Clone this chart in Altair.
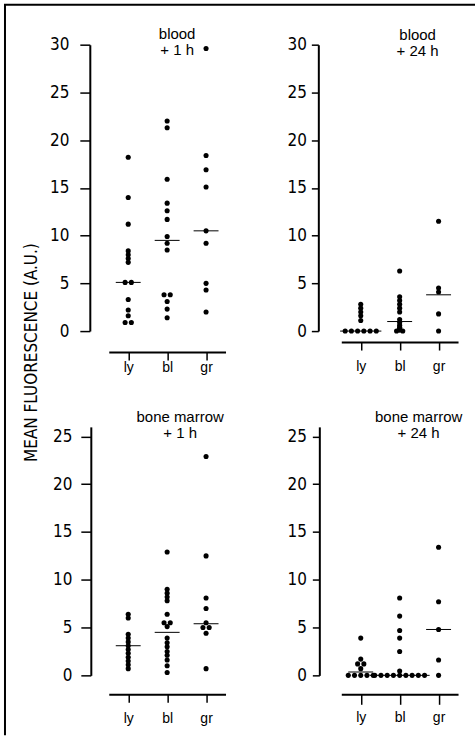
import altair as alt
import pandas as pd

CELLS = ["ly", "bl", "gr"]

# Mean fluorescence (A.U.) per cell, blood 1 h after injection
blood_1h_ly = [18.2, 14.0, 11.2, 8.4, 8.0, 7.6, 7.2, 5.1, 5.1, 3.3, 2.2, 1.6, 0.9, 0.9]
blood_1h_bl = [22.0, 21.3, 15.9, 13.4, 12.6, 11.7, 9.9, 9.2, 8.5, 3.8, 3.8, 3.1, 2.3, 1.4]
blood_1h_gr = [29.6, 18.4, 16.9, 15.1, 10.5, 9.2, 5.0, 4.3, 2.0]
blood_1h_median = [5.1, 9.5, 10.5]

# blood, 24 h
blood_24h_ly = [2.8, 2.4, 2.0, 1.6, 1.1, 0.0, 0.0, 0.0, 0.0, 0.0, 0.0]
blood_24h_bl = [6.3, 3.6, 3.2, 2.8, 2.4, 2.0, 1.2, 0.9, 0.6, 0.4, 0.3, 0.1, 0.0, 0.0]
blood_24h_gr = [11.5, 4.5, 4.1, 1.8, 0.0]
blood_24h_median = [0.0, 1.0, 3.8]

# bone marrow, 1 h
marrow_1h_ly = [6.4, 6.0, 4.3, 3.9, 3.5, 3.1, 2.7, 2.3, 1.9, 1.5, 1.1, 0.7]
marrow_1h_bl = [12.9, 9.0, 8.6, 8.2, 7.8, 6.4, 5.5, 5.5, 5.1, 3.9, 3.4, 3.0, 2.5, 2.1, 1.6, 1.0, 0.3]
marrow_1h_gr = [22.9, 12.5, 8.1, 7.0, 5.5, 5.0, 5.0, 4.4, 0.7]
marrow_1h_median = [3.1, 4.5, 5.4]

# bone marrow, 24 h
marrow_24h_ly = [3.9, 1.7, 1.2, 1.2, 0.7, 0.0, 0.0, 0.0, 0.0, 0.0]
marrow_24h_bl = [8.1, 6.2, 4.7, 3.9, 2.5, 0.45, 0.0, 0.0, 0.0, 0.0, 0.0, 0.0, 0.0, 0.0, 0.0]
marrow_24h_gr = [13.4, 7.7, 4.8, 1.6, 0.0]
marrow_24h_median = [0.35, 0.0, 4.8]

NARROW = "Liberation Sans Narrow, DejaVu Sans Condensed, sans-serif"
PLAIN = "Liberation Sans, Arial, sans-serif"
DOT_STEP = 0.16  # horizontal step between tied points, in category units
LABEL_EXPR = "[" + ",".join("'%s'" % c for c in CELLS) + "][datum.value]"


def points_frame(columns):
    rows = []
    for pos, values in enumerate(columns):
        counts = {}
        for v in values:
            counts[v] = counts.get(v, 0) + 1
        seen = {}
        for v in values:
            i = seen.get(v, 0)
            seen[v] = i + 1
            off = (i - (counts[v] - 1) / 2) * DOT_STEP
            rows.append({"cell": CELLS[pos], "value": v, "x": pos + off})
    return pd.DataFrame(rows)


def median_frame(columns, medians):
    # a median bar is widened to run under a row of tied points at its level
    half = [max(0.32, (values.count(m) - 1) / 2 * DOT_STEP + 0.13)
            for values, m in zip(columns, medians)]
    return pd.DataFrame({"cell": CELLS, "pos": list(range(len(CELLS))),
                         "value": medians, "half": half})


def panel(columns, medians, title, ymax, height, y_off, x_off,
          y_tick, y_pad, x_tick, x_pad, title_dx, title_dy, title_offset=0,
          y_title=None, extra=()):
    xs = alt.Scale(domain=[-0.5, 2.5], nice=False, zero=False)
    ys = alt.Scale(domain=[0, ymax], nice=False, zero=False)
    x_axis = alt.Axis(values=[0, 1, 2], labelExpr=LABEL_EXPR, offset=x_off, grid=False,
                      domainWidth=2, domainColor="black", tickColor="black", tickWidth=1.5,
                      tickSize=x_tick, labelFont=PLAIN, labelFontSize=14, labelColor="black",
                      labelPadding=x_pad, title=None)
    y_kw = dict(values=list(range(0, int(ymax) + 1, 5)), offset=y_off, grid=False,
                domainWidth=2, domainColor="black", tickColor="black", tickWidth=1.5,
                tickSize=y_tick, labelFont=NARROW, labelFontSize=17, labelColor="black",
                labelPadding=y_pad)
    if y_title:
        y_kw.update(title=y_title, titleFont=NARROW, titleFontSize=17, titleFontWeight="normal",
                    titleColor="black", titleAngle=270, titleAlign="center",
                    titleBaseline="middle", titleX=-58, titleY=308)
    else:
        y_kw.update(title=None)
    y_axis = alt.Axis(**y_kw)

    pts = alt.Chart(points_frame(columns)).mark_circle(size=26, color="black", opacity=1).encode(
        x=alt.X("x:Q", scale=xs, axis=x_axis),
        y=alt.Y("value:Q", scale=ys, axis=y_axis),
    )
    med = alt.Chart(median_frame(columns, medians)).transform_calculate(
        lo="datum.pos - datum.half", hi="datum.pos + datum.half"
    ).mark_rule(color="black", strokeWidth=1).encode(
        x=alt.X("lo:Q", scale=xs), x2="hi:Q", y=alt.Y("value:Q", scale=ys)
    )
    return alt.layer(pts, med, *extra).properties(
        width=117, height=height,
        title=alt.TitleParams(text=title, font=PLAIN, fontSize=15, fontWeight="normal",
                              color="black", anchor="middle", frame="group",
                              dx=title_dx, dy=title_dy, lineHeight=16, offset=title_offset),
    )


# Figure frame: left and top border lines
frame_left = alt.Chart().mark_rule(color="black", strokeWidth=2).encode(
    x=alt.value(-104), y=alt.value(-40), y2=alt.value(692))
frame_top = alt.Chart().mark_rule(color="black", strokeWidth=2).encode(
    x=alt.value(-105), x2=alt.value(367), y=alt.value(-40))

tl = panel([blood_1h_ly, blood_1h_bl, blood_1h_gr], blood_1h_median,
           ["blood", "+  1  h"], 30, 287, 19, 21, 10, 11, 8, 1, 10, 27, title_offset=-27,
           y_title="MEAN FLUORESCENCE  (A.U.)", extra=(frame_left, frame_top))
tr = panel([blood_24h_ly, blood_24h_bl, blood_24h_gr], blood_24h_median,
           ["blood", "+  24  h"], 30, 287, 23, 11, 7, 5, 8, 10, 18, 23)
bl = panel([marrow_1h_ly, marrow_1h_bl, marrow_1h_gr], marrow_1h_median,
           ["bone  marrow", "+  1  h"], 26, 249, 18, 19, 10, 9, 8, 9, 13, 14)
br = panel([marrow_24h_ly, marrow_24h_bl, marrow_24h_gr], marrow_24h_median,
           ["bone  marrow", "+  24  h"], 26, 249, 22, 19, 7, 6, 10, 6, 19, 14)

chart = alt.concat(tl, tr, bl, br, columns=2, spacing={"row": 96, "column": 116},
                   bounds="flush", align="each").properties(
    padding={"left": 3, "top": 3, "right": 0, "bottom": 0},
    background="white",
).configure_view(stroke=None)

chart.save("out.html", embed_options={"renderer": "svg", "actions": False})
